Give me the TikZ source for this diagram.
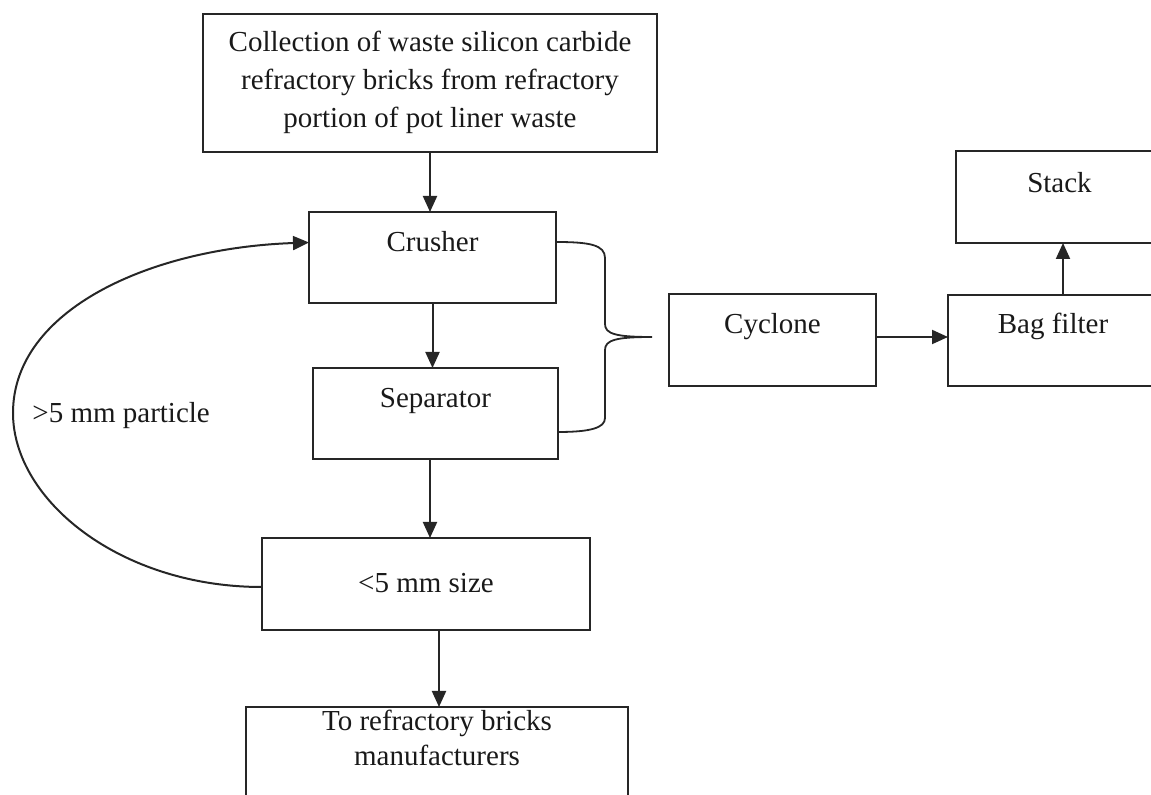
\documentclass[tikz,border=0pt]{standalone}
\usepackage{fontspec}
\setmainfont{Liberation Serif}
\usetikzlibrary{arrows.meta,calc}
\newcommand{\mlines}[1]{\begin{tabular}[t]{@{}c@{}}#1\end{tabular}}
\begin{document}
\begin{tikzpicture}[x=0.5pt,y=-0.5pt,
  box/.style={draw=black!85, line width=0.8pt, rectangle, inner sep=0pt, outer sep=0pt,
    font=\fontsize{14.5}{19}\selectfont, text=black!90, text height=10pt},
  arr/.style={draw=black!85, line width=1pt, -{Triangle[length=8pt,width=7pt]}},
  link/.style={draw=black!85, line width=0.9pt},
  lbl/.style={font=\fontsize{14.5}{19}\selectfont, text=black!90, inner sep=0pt}
]
\useasboundingbox (0,0) rectangle (1151,795);
\clip (0,0) rectangle (1151,795);

% boxes
\node[box, minimum width=227pt, minimum height=69pt, text height=12pt, text depth=43pt]
  (top) at (430,83) {\mlines{Collection of waste silicon carbide\\refractory bricks from refractory\\portion of pot liner waste}};
\node[box, minimum width=123.5pt, minimum height=45.5pt, text depth=15.5pt]
  (crusher) at (432.5,257.5) {Crusher};
\node[box, minimum width=122.5pt, minimum height=45.5pt, text depth=15.5pt]
  (separator) at (435.5,413.5) {Separator};
\node[box, minimum width=164pt, minimum height=46pt, text depth=1pt]
  (small) at (426,584) {<5 mm size};
\node[box, font=\fontsize{14.5}{17.25}\selectfont, minimum width=191pt, minimum height=70pt, text height=12pt, text depth=58pt]
  (bottom) at (437,777) {\mlines{To refractory bricks\\manufacturers}};
\node[box, minimum width=103.5pt, minimum height=46pt, text depth=16pt]
  (cyclone) at (772.5,340) {Cyclone};
\node[box, minimum width=105pt, minimum height=45.5pt, text depth=16.5pt]
  (bag) at (1053,340.5) {Bag filter};
\node[box, minimum width=103.5pt, minimum height=46pt, text depth=14.3pt]
  (stack) at (1059.5,197) {Stack};

% straight arrows
\draw[arr] (top.south) -- (top.south |- crusher.north);
\draw[arr] (crusher.south) -- (crusher.south |- separator.north);
\coordinate (s1) at ($(separator.south)+(-5.5,0)$);
\draw[arr] (s1) -- (s1 |- small.north);
\coordinate (s2) at ($(bottom.north)+(2,0)$);
\draw[arr] (s2 |- small.south) -- (s2);
\coordinate (c1) at ($(cyclone.east)+(0,-3)$);
\draw[arr] (c1) -- (c1 -| bag.west);
\coordinate (b1) at ($(bag.north)+(10,0)$);
\draw[arr] (b1) -- (b1 |- stack.south);

% recycle loop
\coordinate (loopstart) at ($(small.west)+(0,3)$);
\coordinate (loopleft) at (13,413);
\coordinate (loopend) at ($(crusher.west)+(0,-15)$);
\draw[arr] (loopstart) .. controls (120,587) and (13,500) .. (loopleft)
  .. controls (13,310) and (150,248) .. (loopend);
\node[lbl, anchor=base west] (particle) at (32,423) {>5 mm particle};

% brace joining crusher and separator to cyclone
\coordinate (br1) at ($(crusher.east)+(0,-15.5)$);
\coordinate (br2) at ($(separator.east)+(0,18.5)$);
\coordinate (tip) at (652,337);
\draw[link] (br1) .. controls (590,242) and (605,245) .. (605,258) -- (605,324)
  .. controls (605,334) and (616,337) .. (tip)
  .. controls (616,337) and (605,340) .. (605,350) -- (605,418)
  .. controls (605,428) and (590,432) .. (br2);
\end{tikzpicture}
\end{document}
